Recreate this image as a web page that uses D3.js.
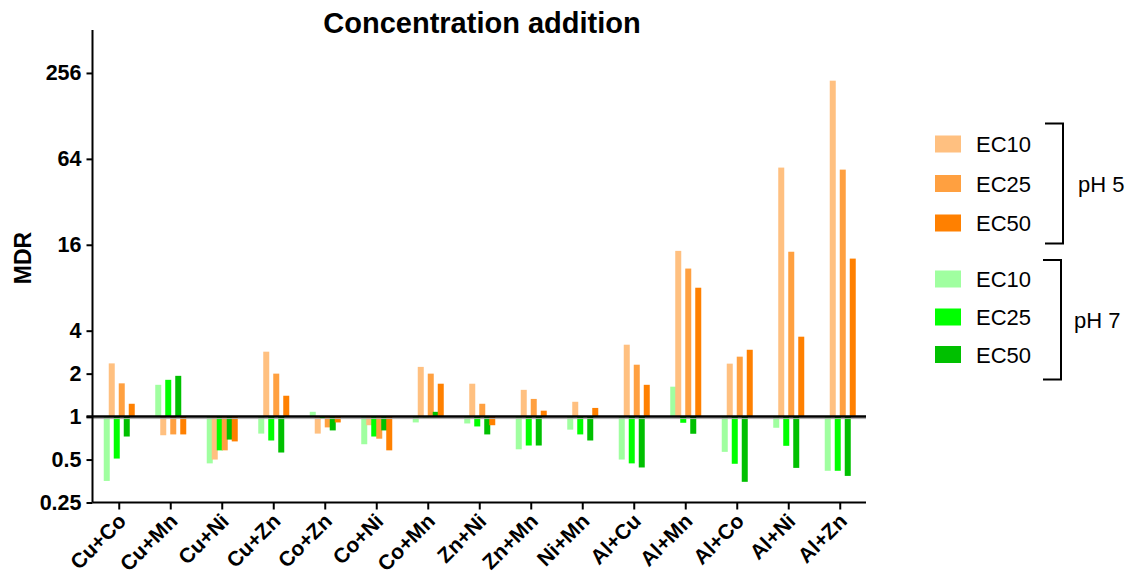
<!DOCTYPE html>
<html lang="en">
<head>
    <meta charset="UTF-8">
    <title>Concentration addition</title>
    <style>
        body {
            margin: 0;
            background: #fff;
            font-family: "Liberation Sans", Arial, sans-serif;
        }
        svg text {
            fill: #000;
        }
    </style>
</head>
<body>
    <svg width="1135" height="581"></svg>

    <script src="https://d3js.org/d3.v7.min.js"></script>
    <script>
        // mixtures on the x axis
        const categories = ["Cu+Co", "Cu+Mn", "Cu+Ni", "Cu+Zn", "Co+Zn", "Co+Ni", "Co+Mn", "Zn+Ni",
            "Zn+Mn", "Ni+Mn", "Al+Cu", "Al+Mn", "Al+Co", "Al+Ni", "Al+Zn"];

        // MDR values
        const ph5EC10 = [2.36, 0.74, 0.50, 2.85, 0.76, 0.87, 2.23, 1.70, 1.54, 1.27, 3.19, 14.5, 2.35, 55.6, 226];
        const ph5EC25 = [1.71, 0.75, 0.58, 2.0, 0.84, 0.70, 2.0, 1.23, 1.33, 1.0, 2.31, 10.9, 2.63, 14.3, 53.8];
        const ph5EC50 = [1.23, 0.75, 0.67, 1.40, 0.91, 0.58, 1.70, 0.87, 1.10, 1.15, 1.67, 8.0, 2.94, 3.63, 12.8];
        const ph7EC10 = [0.354, 1.67, 0.47, 0.76, 1.08, 0.64, 0.91, 0.895, 0.59, 0.81, 0.50, 1.62, 0.566, 0.835, 0.417];
        const ph7EC25 = [0.508, 1.81, 0.58, 0.68, 0.97, 0.725, 0.99, 0.853, 0.627, 0.75, 0.47, 0.905, 0.467, 0.624, 0.417];
        const ph7EC50 = [0.725, 1.93, 0.69, 0.56, 0.80, 0.80, 1.08, 0.75, 0.627, 0.68, 0.44, 0.758, 0.349, 0.437, 0.384];

        const yTicks = [0.25, 0.5, 1, 2, 4, 16, 64, 256];
        const ecLabels = ["EC10", "EC25", "EC50"];

        // bars inside a group go green/orange alternating
        const series = [
            {key: "g10", values: ph7EC10, color: "#a0ffa0"},
            {key: "o10", values: ph5EC10, color: "#ffc080"},
            {key: "g25", values: ph7EC25, color: "#00ff00"},
            {key: "o25", values: ph5EC25, color: "#ffa040"},
            {key: "g50", values: ph7EC50, color: "#00c000"},
            {key: "o50", values: ph5EC50, color: "#ff8000"}
        ];
        const orangeColors = ["#ffc080", "#ffa040", "#ff8000"];
        const greenColors = ["#a0ffa0", "#00ff00", "#00c000"];

        const svg = d3.select("svg");
        const plotLeft = 92.5, plotRight = 866, plotTop = 30, plotBottom = 502.5;

        const x = d3.scaleBand().domain(categories).range([plotLeft + 1, plotRight]);
        const inner = d3.scalePoint().domain(series.map(s => s.key)).range([-12.5, 12.5]);
        const y = d3.scaleLog().base(2).domain([0.25, 512]).range([plotBottom, plotTop]);
        const barW = 6;

        // bars
        series.forEach(s => {
            svg.append("g")
                .selectAll("rect")
                .data(s.values.map((v, i) => ({cat: categories[i], v: v})))
                .enter()
                .append("rect")
                .attr("x", d => x(d.cat) + x.bandwidth() / 2 + inner(s.key) - barW / 2)
                .attr("y", d => Math.min(y(d.v), y(1)))
                .attr("width", barW)
                .attr("height", d => Math.abs(y(d.v) - y(1)))
                .style("fill", s.color);
        });

        // baseline at 1
        svg.append("line")
            .attr("x1", plotLeft - 6).attr("x2", plotRight)
            .attr("y1", y(1) + 2).attr("y2", y(1) + 2)
            .style("stroke", "#aaa").style("stroke-width", 1);
        svg.append("line")
            .attr("x1", plotLeft - 6).attr("x2", plotRight)
            .attr("y1", y(1)).attr("y2", y(1))
            .style("stroke", "#000").style("stroke-width", 2.5);

        // y axis
        const yAxis = svg.append("g")
            .attr("transform", `translate(${plotLeft},0)`)
            .call(d3.axisLeft(y).tickValues(yTicks).tickFormat(d => d).tickSize(6).tickPadding(5));
        yAxis.select(".domain").attr("d", `M0,${plotTop}V${plotBottom}`).style("stroke-width", 2);
        yAxis.selectAll(".tick line").style("stroke-width", 2);
        yAxis.selectAll("text")
            .style("font-family", "'Liberation Sans', Arial, sans-serif")
            .style("font-size", "21.5px")
            .style("font-weight", "bold");

        // x axis
        const xAxis = svg.append("g")
            .attr("transform", `translate(0,${plotBottom})`)
            .call(d3.axisBottom(x).tickSize(7).tickSizeOuter(0));
        xAxis.select(".domain").attr("d", `M${plotLeft},0H${plotRight}`).style("stroke-width", 2);
        xAxis.selectAll(".tick line").style("stroke-width", 2);
        xAxis.selectAll("text")
            .style("font-family", "'Liberation Sans', Arial, sans-serif")
            .style("font-size", "21px")
            .style("font-weight", "bold")
            .attr("text-anchor", "end")
            .attr("dy", null)
            .attr("y", 0)
            .attr("transform", "translate(8,20) rotate(-45)");

        // title and axis label
        svg.append("text")
            .attr("x", 482).attr("y", 33)
            .attr("text-anchor", "middle")
            .style("font-size", "29px")
            .style("font-weight", "bold")
            .text("Concentration addition");

        svg.append("text")
            .attr("transform", "translate(31,258) rotate(-90)")
            .attr("text-anchor", "middle")
            .style("font-size", "23px")
            .style("font-weight", "bold")
            .text("MDR");

        // legend
        const legend = svg.append("g");
        const groups = [
            {label: "pH 5", colors: orangeColors, ys: [144, 183.5, 223], bracket: [123.5, 243.5], bx: 1063, lx: 1078},
            {label: "pH 7", colors: greenColors, ys: [279, 317, 354.5], bracket: [260, 379.5], bx: 1061, lx: 1074}
        ];
        groups.forEach(g => {
            g.ys.forEach((cy, i) => {
                legend.append("rect")
                    .attr("x", 935).attr("y", cy - 8.5)
                    .attr("width", 26).attr("height", 17)
                    .style("fill", g.colors[i]);
                legend.append("text")
                    .attr("x", 976).attr("y", cy + 8)
                    .style("font-size", "22px")
                    .text(ecLabels[i]);
            });
            legend.append("path")
                .attr("d", `M${g.bx - 18},${g.bracket[0]}H${g.bx}V${g.bracket[1]}H${g.bx - 18}`)
                .style("fill", "none").style("stroke", "#000").style("stroke-width", 2);
            legend.append("text")
                .attr("x", g.lx).attr("y", (g.bracket[0] + g.bracket[1]) / 2 + 8)
                .style("font-size", "22px")
                .text(g.label);
        });
    </script>
</body>
</html>
